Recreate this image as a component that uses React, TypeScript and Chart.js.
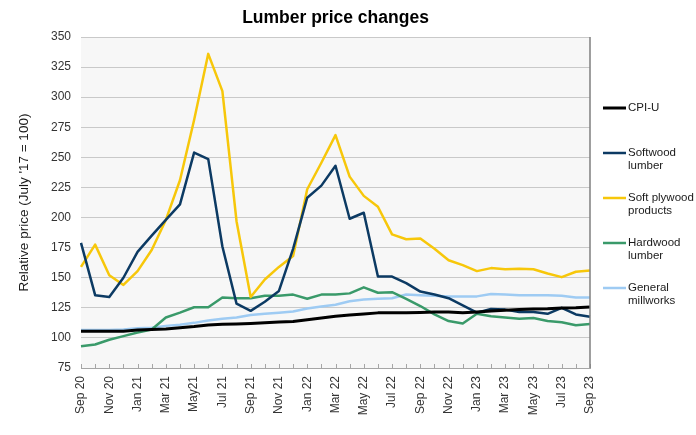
import React, { useEffect, useRef } from 'react';
import { Chart, registerables } from 'chart.js';

Chart.register(...registerables);

const titleText = 'Lumber price changes';
const yAxisTitle = "Relative price (July '17 = 100)";

const months = [
  'Sep 20', 'Oct 20', 'Nov 20', 'Dec 20', 'Jan 21', 'Feb 21', 'Mar 21', 'Apr 21', 'May21', 'Jun 21',
  'Jul 21', 'Aug 21', 'Sep 21', 'Oct 21', 'Nov 21', 'Dec 21', 'Jan 22', 'Feb 22', 'Mar 22', 'Apr 22',
  'May 22', 'Jun 22', 'Jul 22', 'Aug 22', 'Sep 22', 'Oct 22', 'Nov 22', 'Dec 22', 'Jan 23', 'Feb 23',
  'Mar 23', 'Apr 23', 'May 23', 'Jun 23', 'Jul 23', 'Aug 23', 'Sep 23',
];

const cpiU = [
  105.5, 105.5, 105.5, 105.5, 106.5, 107, 107.5, 108.5, 109.5, 110.8,
  111.3, 111.6, 112, 112.6, 113.2, 113.6, 115, 116.5, 118, 119,
  119.8, 120.8, 120.8, 121, 121.2, 121.5, 121.6, 121, 121.6, 122.3,
  123, 123.5, 124, 124.3, 124.9, 125.1, 125.7,
];

const softwoodLumber = [
  179, 135.5, 134, 150, 171.5, 185, 198, 211, 254, 248.5,
  176, 128.5, 122.5, 130, 139, 174, 216.5, 226.5, 243, 199,
  204, 151, 151, 145.5, 138.5, 136, 133, 127, 121, 124,
  123.5, 121.5, 121.5, 120, 125, 119.5, 117.5,
];

const softPlywood = [
  159, 177.5, 152, 144, 155.5, 173, 198, 231, 281, 336,
  305, 197, 134, 148.5, 159, 168, 223.5, 245.5, 268.5, 234,
  218, 209, 186, 182, 182.5, 174, 164.5, 160.5, 155.5, 158,
  157, 157.5, 157, 153.5, 150.5, 155, 156,
];

const hardwoodLumber = [
  93, 94.5, 98.5, 101.5, 104.5, 107, 117, 121, 125.5, 125.5,
  133.5, 133, 133, 135, 135, 136, 132.5, 136, 136, 137,
  142, 137.5, 138, 132.5, 126.5, 119.5, 114, 112, 120, 118,
  117, 116, 116.5, 114, 113, 110.5, 111.5,
];

const generalMillworks = [
  106.5, 106.5, 106.5, 107, 108, 108.5, 110, 111, 112.5, 114.5,
  116, 117, 119, 120, 121, 122, 124.5, 126, 127.5, 130.5,
  132, 132.5, 133, 136, 135.5, 135, 134.5, 134.5, 134.5, 136.5,
  136, 135.5, 135.5, 135.5, 135, 133.5, 133.5,
];

const seriesLabels = ['CPI-U', 'Softwood lumber', 'Soft plywood products', 'Hardwood lumber', 'General millworks'];
const legendLines = [['CPI-U'], ['Softwood', 'lumber'], ['Soft plywood', 'products'], ['Hardwood', 'lumber'], ['General', 'millworks']];
const seriesColors = ['#000000', '#0c3a63', '#f7c70a', '#3a9a6a', '#9ecbf3'];
const seriesWidths = [3, 2.5, 2.5, 2.5, 2.5];
const seriesData = [cpiU, softwoodLumber, softPlywood, hardwoodLumber, generalMillworks];

const FONT = '"Liberation Sans", Arial, Helvetica, sans-serif';

const decor = {
  id: 'decor',
  beforeDraw(chart: any) {
    const { ctx, chartArea: a } = chart;
    ctx.save();
    ctx.fillStyle = '#f7f7f7';
    ctx.fillRect(a.left, a.top, a.right - a.left, a.bottom - a.top);
    ctx.restore();
  },
  afterDraw(chart: any) {
    const { ctx, chartArea: a, scales } = chart;
    ctx.save();
    // inside tick marks on x axis
    ctx.strokeStyle = '#a6a6a6';
    ctx.lineWidth = 1;
    months.forEach((_m, i) => {
      const x = Math.round(scales.x.getPixelForValue(i)) + 0.5;
      ctx.beginPath();
      ctx.moveTo(x, a.bottom);
      ctx.lineTo(x, a.bottom - 4);
      ctx.stroke();
    });
    // right border
    ctx.strokeStyle = '#7f7f7f';
    ctx.lineWidth = 1.5;
    ctx.beginPath();
    ctx.moveTo(a.right, a.top);
    ctx.lineTo(a.right, a.bottom);
    ctx.stroke();
    // title
    ctx.fillStyle = '#000';
    ctx.font = `bold 17.5px ${FONT}`;
    ctx.textAlign = 'center';
    ctx.textBaseline = 'alphabetic';
    ctx.fillText(titleText, (a.left + a.right) / 2, 23);
    // legend
    ctx.font = `11.5px ${FONT}`;
    ctx.textAlign = 'left';
    ctx.textBaseline = 'middle';
    chart.data.datasets.forEach((ds: any, i: number) => {
      const y = 108 + i * 45;
      ctx.strokeStyle = ds.borderColor;
      ctx.lineWidth = ds.borderWidth;
      ctx.beginPath();
      ctx.moveTo(603, y);
      ctx.lineTo(626, y);
      ctx.stroke();
      ctx.fillStyle = '#1a1a1a';
      legendLines[i].forEach((t, j) => ctx.fillText(t, 628, y + j * 13));
    });
    ctx.restore();
  },
};

export default function App() {
  const ref = useRef<HTMLCanvasElement | null>(null);
  useEffect(() => {
    document.body.style.margin = '0';
    const canvas = ref.current;
    if (!canvas) return;
    const chart = new Chart(canvas, {
      type: 'line',
      data: {
        labels: months,
        datasets: seriesLabels.map((label, i) => ({
          label,
          data: seriesData[i],
          borderColor: seriesColors[i],
          backgroundColor: seriesColors[i],
          borderWidth: seriesWidths[i],
          pointRadius: 0,
          tension: 0,
          borderJoinStyle: 'round' as const,
          fill: false,
        })),
      },
      options: {
        responsive: false,
        animation: false,
        layout: { padding: { top: 37, right: 106, left: 0, bottom: 0 } },
        plugins: { legend: { display: false }, title: { display: false }, tooltip: { enabled: false } },
        scales: {
          x: {
            type: 'category',
            offset: false,
            grid: { display: false, drawTicks: false },
            border: { display: true, color: '#a6a6a6', width: 1 },
            ticks: {
              autoSkip: false,
              maxRotation: 90,
              minRotation: 90,
              padding: 8,
              color: '#333333',
              font: { family: FONT, size: 12 },
              callback: (_v: any, i: number) => (i % 2 === 0 ? months[i] : ''),
            },
            afterFit: (s: any) => { s.height = 67; },
          },
          y: {
            min: 75,
            max: 350,
            grid: { color: '#c9c9c9', drawTicks: false, lineWidth: 1 },
            border: { display: false },
            ticks: { stepSize: 25, padding: 10, color: '#333333', font: { family: FONT, size: 12 } },
            title: {
              display: true,
              text: yAxisTitle,
              color: '#1a1a1a',
              font: { family: FONT, size: 13.5 },
              padding: { top: 16, bottom: 0 },
            },
            afterFit: (s: any) => { s.width = 81; },
          },
        },
      },
      plugins: [decor],
    });
    return () => chart.destroy();
  }, []);
  return <canvas ref={ref} width={696} height={435} style={{ display: 'block' }} />;
}
